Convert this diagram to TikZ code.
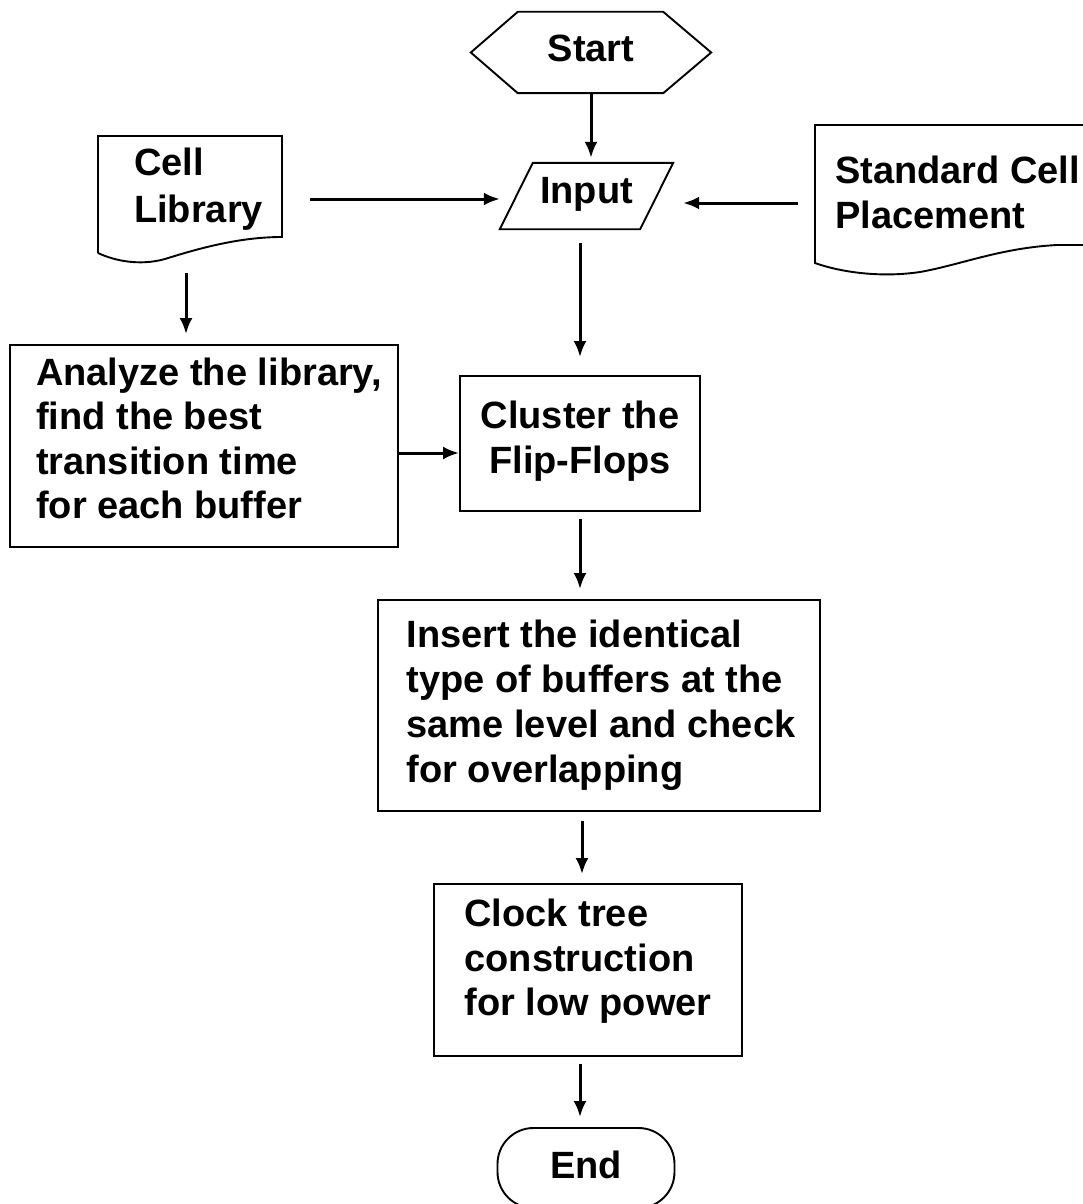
\documentclass[tikz,border=0pt]{standalone}
\usepackage{fontspec}
\setmainfont{Liberation Sans}
\usetikzlibrary{arrows.meta}

\begin{document}
\begin{tikzpicture}[x=1pt,y=-1pt,
  every node/.style={font=\bfseries\fontsize{38}{45}\selectfont, inner sep=0pt},
  box/.style={draw, line width=1.9pt, align=left},
  outline/.style={line width=1.9pt, line join=miter},
  arr/.style={line width=3pt, -{Latex[length=16pt,width=13pt]}}]

% page
\clip (0,0) rectangle (1083,1204);
\fill[white] (0,0) rectangle (1083,1204);

% terminal: Start (hexagon)
\node[minimum width=240pt, minimum height=81pt, text height=27.3pt, text depth=10pt]
  (start) at (591,52.5) {Start};
\draw[outline] ([xshift=47pt]start.north west) -- ([xshift=-48pt]start.north east)
  -- (start.east) -- ([xshift=-48pt]start.south east)
  -- ([xshift=47pt]start.south west) -- (start.west) -- cycle;

% input (parallelogram)
\node[minimum width=173pt, minimum height=66pt, text height=27.3pt, text depth=12pt]
  (inp) at (586.5,196) {Input};
\draw[outline] (inp.south west) -- ([xshift=33pt]inp.north west)
  -- (inp.north east) -- ([xshift=-33pt]inp.south east) -- cycle;

% document: Cell Library
\draw[outline] (98,253) -- (98,136) -- (282,136) -- (282,237)
  .. controls (240,237) and (200,248) .. (165,259)
  .. controls (140,266) and (115,261) .. (98,253);
\node[align=left, anchor=north west, font=\bfseries\fontsize{38}{47}\selectfont]
  (lib) at (134,148) {Cell\\Library};
\coordinate (libout) at (310,199);
\coordinate (libdown) at (186,273);

% document: Standard Cell Placement
\draw[outline] (1100,125) -- (815,125) -- (815,263)
  .. controls (840,272) and (880,278) .. (920,272)
  .. controls (960,265) and (1000,248) .. (1057,245) -- (1100,245);
\node[align=left, anchor=north west] (scp) at (835,156) {Standard Cell\\Placement};
\coordinate (scpout) at (798,203);

% process boxes
\node[box, minimum width=388pt, minimum height=202pt, text depth=16pt,
  font=\bfseries\fontsize{38}{44.5}\selectfont]
  (ana) at (204,446) {\hspace*{10pt}Analyze the library,\\\hspace*{10pt}find the best\\\hspace*{10pt}transition time\\\hspace*{10pt}for each buffer};
\node[box, align=center, minimum width=240pt, minimum height=135pt, text depth=12pt]
  (clu) at (580,443.5) {Cluster the\\Flip-Flops};
\node[box, minimum width=442pt, minimum height=211pt]
  (ins) at (599,705.5) {\hspace*{4pt}Insert the identical\\\hspace*{4pt}type of buffers at the\\\hspace*{4pt}same level and check\\\hspace*{4pt}for overlapping};
\node[box, minimum width=308pt, minimum height=172pt, text depth=25pt,
  font=\bfseries\fontsize{38}{44.5}\selectfont]
  (clk) at (588,970) {Clock tree\\construction\\for low power};

% terminal: End
\node[draw, line width=1.9pt, rounded corners=36pt, minimum width=177pt, minimum height=80pt,
  text height=27.3pt, text depth=6pt] (end) at (586,1168) {End};

% connectors
\draw[arr, shorten >=5pt] (start.south) -- (start.south |- inp.north);
\draw[arr] (libout) -- (libout -| inp.west);
\draw[arr, shorten >=10pt] (scpout) -- (scpout -| inp.east);
\draw[arr, shorten >=10pt] (libdown) -- (libdown |- ana.north);
\draw[arr, shorten <=14pt, shorten >=18pt] (inp.south -| clu.north) -- (clu.north);
\draw[arr] ([yshift=-7pt]ana.east) -- ([yshift=-7pt]ana.east -| clu.west);
\draw[arr, shorten <=7pt, shorten >=10pt] (clu.south) -- (clu.south |- ins.north);
\draw[arr, shorten <=9pt, shorten >=9pt] ([xshift=-6pt]clk.north |- ins.south) -- ([xshift=-6pt]clk.north);
\draw[arr, shorten <=7pt, shorten >=10pt] ([xshift=-6pt]end.north |- clk.south) -- ([xshift=-6pt]end.north);
\end{tikzpicture}
\end{document}
